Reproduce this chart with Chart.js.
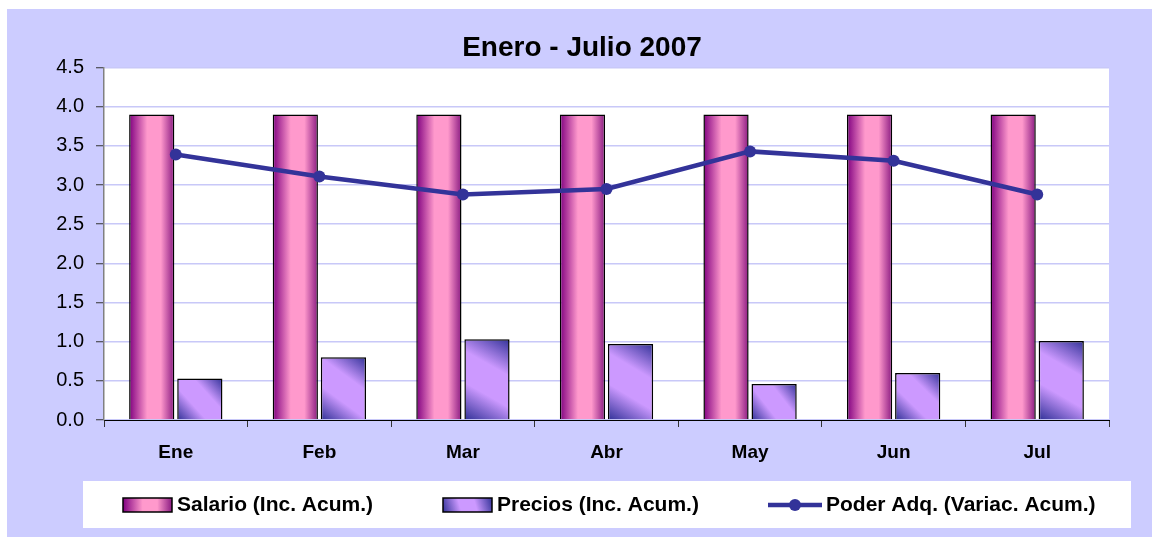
<html lang="es">
<head>
  <meta charset="utf-8">
  <title>Enero - Julio 2007</title>
  <style>
    html, body { margin: 0; padding: 0; background: #fff; }
    #wrap { width: 1152px; height: 537px; }
  </style>
</head>
<body>
  <div id="wrap">
    <canvas id="myChart" width="1152" height="537"></canvas>
  </div>
  <script src="https://cdn.jsdelivr.net/npm/chart.js"></script>
  <script>
    const meses = ['Ene', 'Feb', 'Mar', 'Abr', 'May', 'Jun', 'Jul']
    const salario = [3.9, 3.9, 3.9, 3.9, 3.9, 3.9, 3.9]
    const precios = [0.53, 0.80, 1.03, 0.97, 0.46, 0.60, 1.01]
    const poder = [3.39, 3.11, 2.88, 2.95, 3.43, 3.31, 2.88]

    const FONT = 'Liberation Sans, Arial, sans-serif'

    // gradients like the old excel fill effects
    function salarioGrad(ctx, x, y, w, h) {
      const g = ctx.createLinearGradient(x, 0, x + w, 0)
      g.addColorStop(0, '#800080')
      g.addColorStop(0.4, '#ff99cc')
      g.addColorStop(0.7, '#ff99cc')
      g.addColorStop(1, '#8a1a82')
      return g
    }
    function preciosGrad(ctx, x, y, w, h) {
      const g = ctx.createLinearGradient(x, y + h, x + w, y)
      g.addColorStop(0, '#333399')
      g.addColorStop(0.35, '#cc99ff')
      g.addColorStop(0.65, '#cc99ff')
      g.addColorStop(1, '#333399')
      return g
    }

    const frame = {
      id: 'frame',
      beforeDraw(chart) {
        const { ctx, chartArea: a } = chart
        ctx.save()
        ctx.fillStyle = '#fff'
        ctx.fillRect(0, 0, chart.width, chart.height)
        ctx.fillStyle = '#ccccff'
        ctx.fillRect(7, 9, chart.width - 7, chart.height - 9)
        ctx.fillStyle = '#fff'
        ctx.fillRect(a.left, a.top, a.right - a.left, a.bottom - a.top)
        ctx.restore()
      },
      beforeDatasetDraw(chart, args) {
        const ds = args.meta
        if (ds.type !== 'bar') return
        const fn = args.index === 1 ? salarioGrad : preciosGrad
        ds.data.forEach(el => {
          const top = Math.min(el.y, el.base)
          const h = Math.abs(el.base - el.y)
          el.options.backgroundColor = fn(chart.ctx, el.x - el.width / 2, top, el.width, h)
        })
      },
      afterDraw(chart) {
        // legend box at the bottom
        const ctx = chart.ctx
        const sets = chart.data.datasets
        ctx.save()
        ctx.fillStyle = '#fff'
        ctx.fillRect(83, 481, 1048, 47)
        const cy = 505
        ctx.font = 'bold 21px ' + FONT
        ctx.textBaseline = 'middle'

        ctx.fillStyle = salarioGrad(ctx, 123, 498, 49, 14)
        ctx.fillRect(123, 498, 49, 14)
        ctx.strokeStyle = '#000'
        ctx.lineWidth = 1.5
        ctx.strokeRect(123, 498, 49, 14)
        ctx.fillStyle = '#000'
        ctx.fillText(sets[1].label, 177, cy)

        ctx.fillStyle = preciosGrad(ctx, 443, 498, 49, 14)
        ctx.fillRect(443, 498, 49, 14)
        ctx.strokeRect(443, 498, 49, 14)
        ctx.fillStyle = '#000'
        ctx.fillText(sets[2].label, 497, cy)

        ctx.strokeStyle = '#333399'
        ctx.lineWidth = 4.5
        ctx.beginPath()
        ctx.moveTo(768, cy)
        ctx.lineTo(822, cy)
        ctx.stroke()
        ctx.fillStyle = '#333399'
        ctx.beginPath()
        ctx.arc(795, cy, 6, 0, Math.PI * 2)
        ctx.fill()
        ctx.fillStyle = '#000'
        ctx.fillText(sets[0].label, 826, cy)
        ctx.restore()
      }
    }

    const ctx = document.getElementById('myChart')
    const myChart = new Chart(ctx, {
      data: {
        labels: meses,
        datasets: [{
          type: 'line',
          label: 'Poder Adq. (Variac. Acum.)',
          data: poder,
          borderColor: '#333399',
          backgroundColor: '#333399',
          borderWidth: 4.5,
          pointRadius: 6,
          pointBackgroundColor: '#333399',
          pointBorderWidth: 0,
          tension: 0,
          order: 0
        },
        {
          type: 'bar',
          label: 'Salario (Inc. Acum.)',
          data: salario,
          backgroundColor: () => '#ff99cc',
          borderColor: '#000',
          borderWidth: 1.5,
          categoryPercentage: 0.67,
          barPercentage: 0.94,
          order: 1
        },
        {
          type: 'bar',
          label: 'Precios (Inc. Acum.)',
          data: precios,
          backgroundColor: () => '#cc99ff',
          borderColor: '#000',
          borderWidth: 1.5,
          categoryPercentage: 0.67,
          barPercentage: 0.94,
          order: 1
        }]
      },
      options: {
        responsive: false,
        animation: false,
        layout: { padding: { left: 55, right: 43, top: 9, bottom: 67 } },
        plugins: {
          legend: { display: false },
          tooltip: { enabled: false },
          title: {
            display: true,
            text: 'Enero - Julio 2007',
            color: '#000',
            font: { family: FONT, size: 28, weight: 'bold' },
            padding: { top: 22, bottom: 3 }
          }
        },
        scales: {
          x: {
            offset: true,
            grid: {
              display: true,
              offset: true,
              drawOnChartArea: false,
              tickLength: 7,
              tickColor: '#333',
              tickWidth: 1
            },
            border: { color: '#000', width: 1 },
            ticks: {
              color: '#000',
              padding: 14,
              font: { family: FONT, size: 19, weight: 'bold' }
            },
            afterFit: (scale) => { scale.height = 50 }
          },
          y: {
            min: 0,
            max: 4.5,
            grid: {
              color: '#c8c8f8',
              lineWidth: 1.5,
              tickLength: 8,
              tickColor: '#333',
              tickWidth: 1
            },
            border: { color: '#808080', width: 1.5 },
            ticks: {
              stepSize: 0.5,
              color: '#000',
              padding: 12,
              font: { family: FONT, size: 20 },
              callback: (v) => v.toFixed(1)
            },
            afterFit: (scale) => { scale.width = 49 }
          }
        }
      },
      plugins: [frame]
    })
  </script>
</body>
</html>
